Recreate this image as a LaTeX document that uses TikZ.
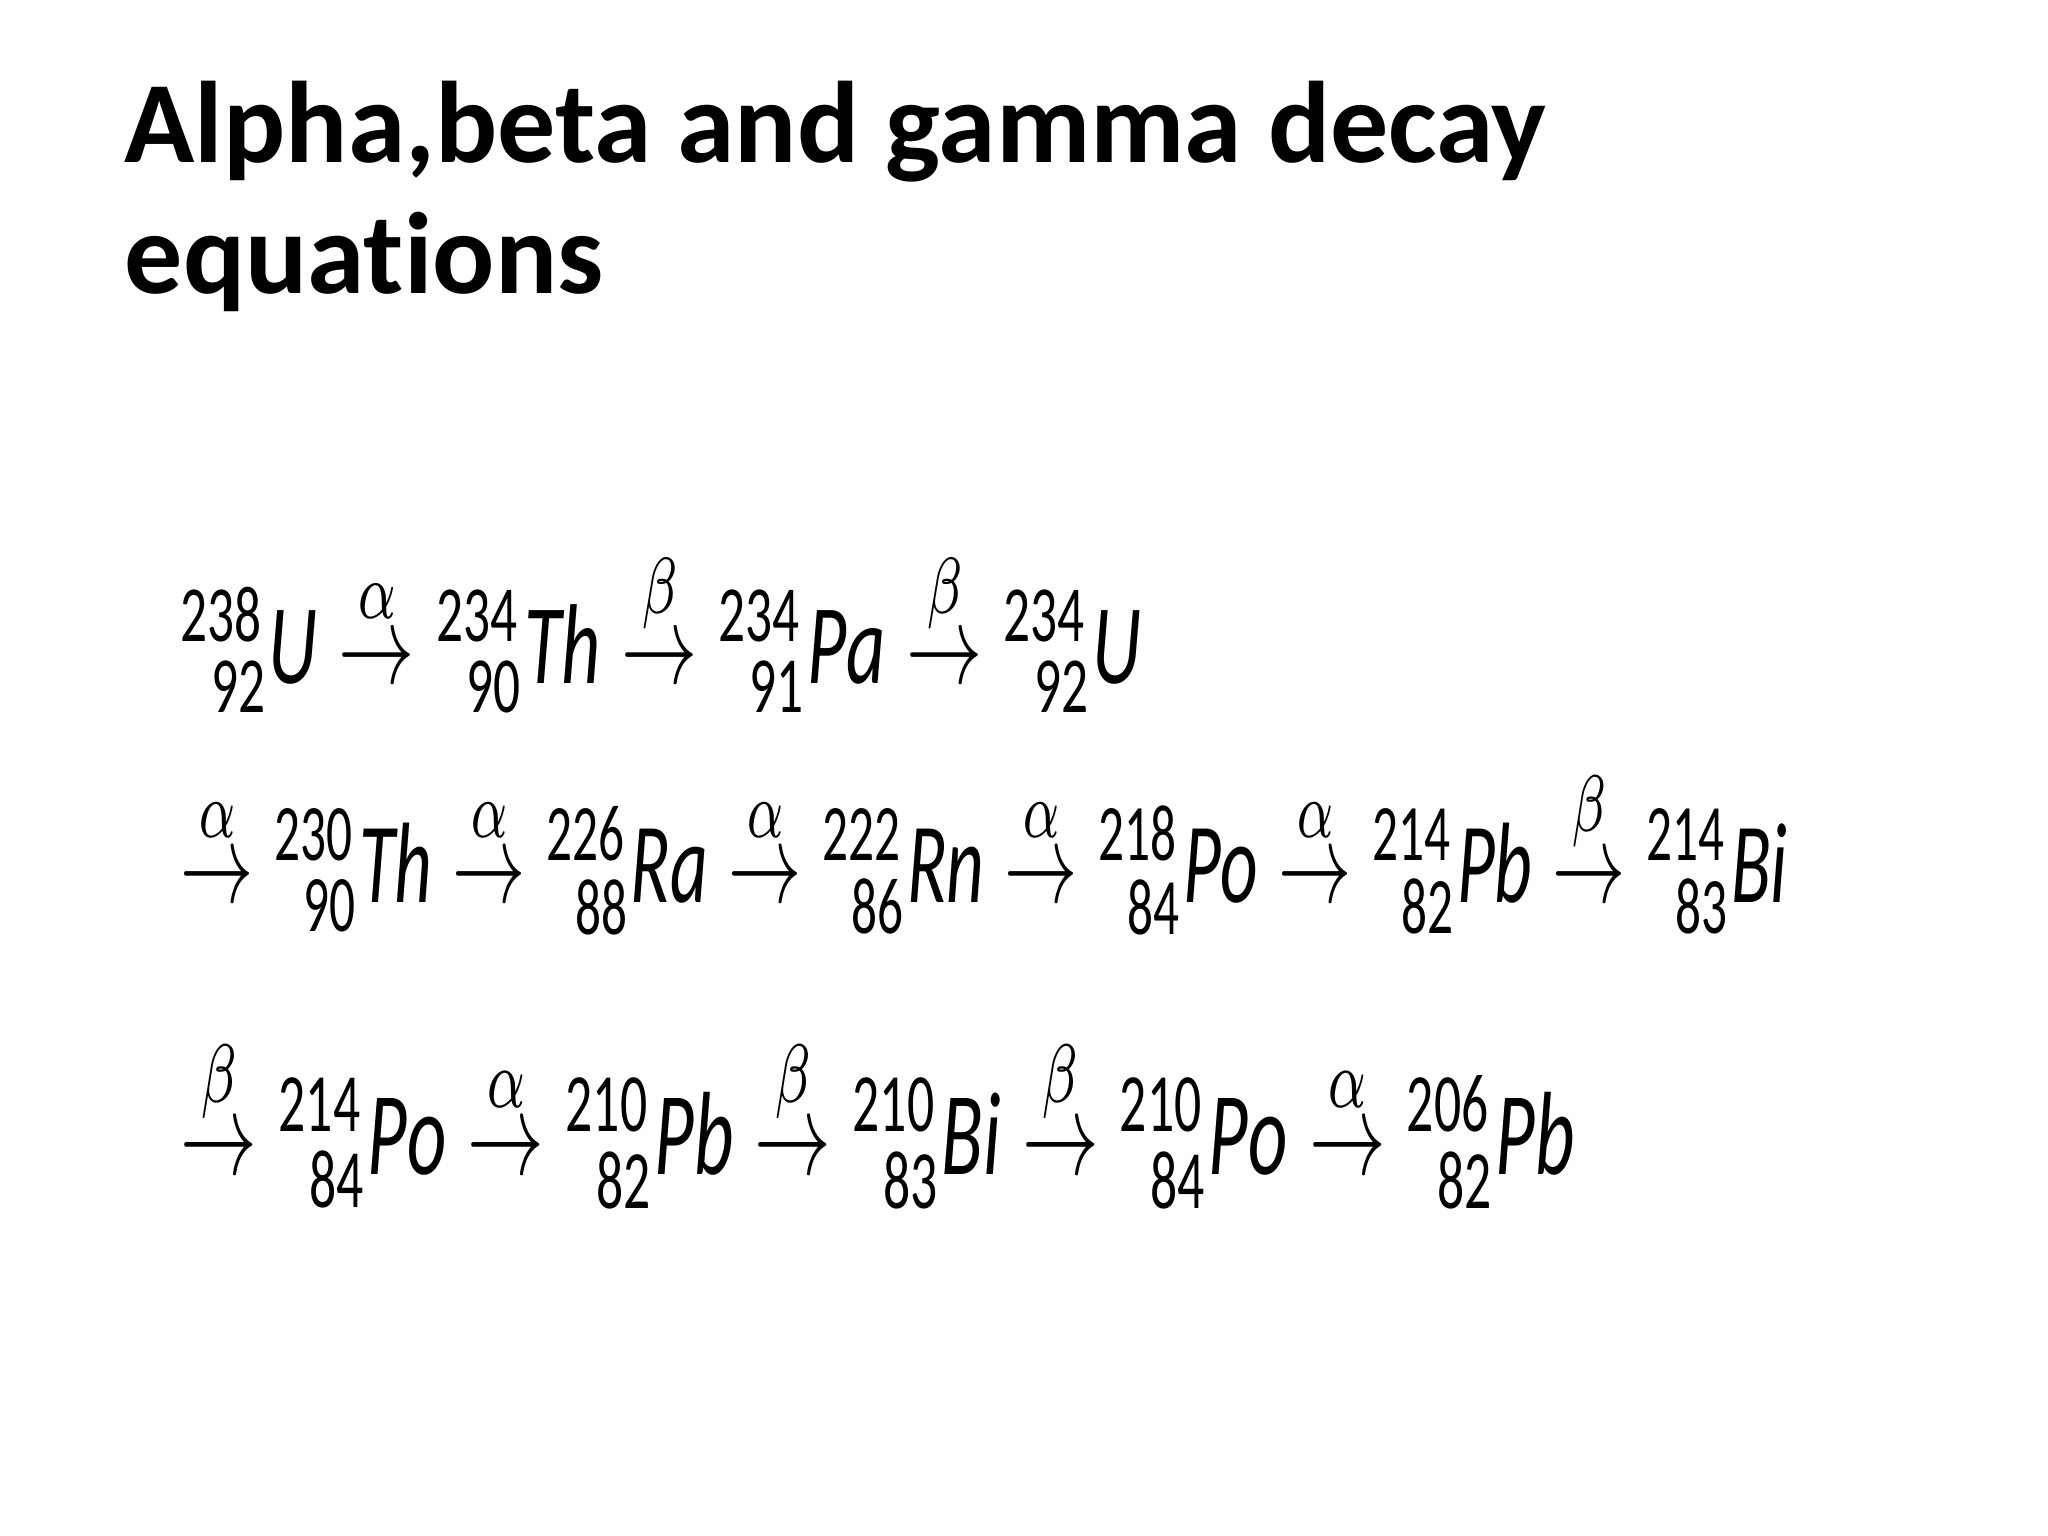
\documentclass[tikz,border=0pt]{standalone}
\usepackage{amsmath,graphicx}
\usepackage{fontspec}
\setmainfont{Carlito}[Ligatures=NoCommon]
\newcommand{\nuc}[3]{{}^{\text{#1}}_{\hphantom{0}\text{#2}}\mathit{#3}}
\newcommand{\dk}[1]{\overset{#1}{\rightarrow}}
\tikzset{ttl/.style={anchor=base west,inner sep=0pt,font=\fontsize{33}{40}\selectfont\bfseries},
eqn/.style={anchor=north west,inner sep=0pt}}
\begin{document}
\begin{tikzpicture}
\useasboundingbox[fill=white] (0,0) rectangle (20.48,-15.36);
\node[ttl] (t1) at (1.24,-1.63) {Alpha,beta and gamma decay};
\node[ttl] (t2) at (1.24,-2.94) {equations};
\node[eqn] (e1) at (1.80,-5.46) {\resizebox*{9.6cm}{1.66cm}{$\nuc{238}{92}{U}\dk{\alpha}\nuc{234}{90}{Th}\dk{\beta}\nuc{234}{91}{Pa}\dk{\beta}\nuc{234}{92}{U}$}};
\node[eqn] (e2) at (1.80,-7.64) {\resizebox*{16.07cm}{1.70cm}{$\dk{\alpha}\nuc{230}{90}{Th}\dk{\alpha}\nuc{226}{88}{Ra}\dk{\alpha}\nuc{222}{86}{Rn}\dk{\alpha}\nuc{218}{84}{Po}\dk{\alpha}\nuc{214}{82}{Pb}\dk{\beta}\nuc{214}{83}{Bi}$}};
\node[eqn] (e3) at (1.80,-10.32) {\resizebox*{13.94cm}{1.76cm}{$\dk{\beta}\nuc{214}{84}{Po}\dk{\alpha}\nuc{210}{82}{Pb}\dk{\beta}\nuc{210}{83}{Bi}\dk{\beta}\nuc{210}{84}{Po}\dk{\alpha}\nuc{206}{82}{Pb}$}};
\end{tikzpicture}
\end{document}
